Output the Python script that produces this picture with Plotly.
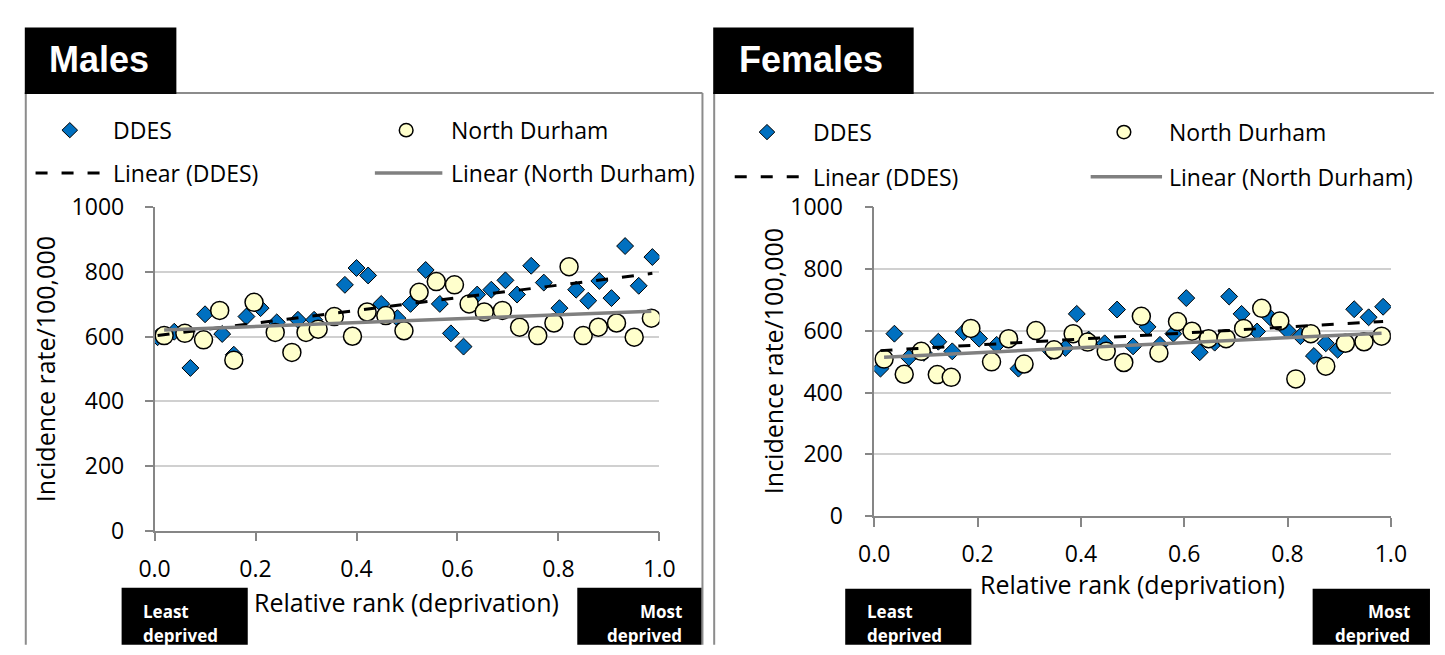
import numpy as np
import plotly.graph_objects as go

# ---- data: incidence rate per 100,000 by relative deprivation rank ----
male_ddes_rank = [0.006, 0.039, 0.071, 0.100, 0.134, 0.157, 0.182, 0.210, 0.242, 0.284,
                  0.316, 0.377, 0.400, 0.423, 0.449, 0.481, 0.507, 0.537, 0.565, 0.587,
                  0.612, 0.639, 0.667, 0.695, 0.718, 0.746, 0.771, 0.802, 0.835, 0.859,
                  0.881, 0.905, 0.932, 0.959, 0.986]
male_ddes_rate = [598, 615, 503, 669, 608, 544, 662, 688, 644, 652,
                  652, 760, 812, 789, 701, 657, 701, 806, 701, 610,
                  569, 730, 745, 774, 730, 819, 767, 688, 745, 711,
                  772, 719, 880, 757, 846]

male_nd_rank = [0.019, 0.060, 0.097, 0.129, 0.157, 0.197, 0.239, 0.272, 0.300, 0.324,
                0.356, 0.392, 0.421, 0.458, 0.494, 0.524, 0.558, 0.594, 0.623, 0.653,
                0.689, 0.723, 0.759, 0.791, 0.821, 0.849, 0.879, 0.915, 0.950, 0.984]
male_nd_rate = [603, 610, 590, 681, 527, 706, 613, 551, 613, 623,
                662, 601, 676, 665, 618, 737, 770, 760, 701, 676,
                681, 629, 603, 642, 816, 603, 629, 642, 598, 657]

female_ddes_rank = [0.012, 0.039, 0.067, 0.096, 0.124, 0.151, 0.173, 0.203, 0.237, 0.279,
                    0.342, 0.370, 0.392, 0.415, 0.446, 0.470, 0.501, 0.529, 0.553, 0.579,
                    0.604, 0.630, 0.659, 0.687, 0.711, 0.741, 0.766, 0.800, 0.825, 0.851,
                    0.874, 0.897, 0.929, 0.957, 0.985]
female_ddes_rate = [477, 590, 513, 528, 564, 533, 595, 574, 554, 477,
                    533, 544, 654, 571, 559, 668, 549, 612, 554, 590,
                    705, 530, 561, 710, 654, 597, 643, 600, 582, 518,
                    559, 538, 669, 643, 677]

female_nd_rank = [0.019, 0.058, 0.091, 0.122, 0.149, 0.187, 0.227, 0.260, 0.290, 0.313,
                  0.348, 0.385, 0.413, 0.449, 0.483, 0.517, 0.551, 0.587, 0.615, 0.647,
                  0.681, 0.715, 0.750, 0.785, 0.816, 0.845, 0.874, 0.912, 0.948, 0.982]
female_nd_rate = [508, 459, 533, 458, 449, 607, 499, 574, 492, 600,
                  538, 590, 563, 533, 497, 646, 528, 629, 598, 574,
                  574, 607, 672, 631, 444, 590, 485, 559, 564, 582]

x_ticks = [0.0, 0.2, 0.4, 0.6, 0.8, 1.0]
x_tick_labels = ["0.0", "0.2", "0.4", "0.6", "0.8", "1.0"]
y_ticks = [0, 200, 400, 600, 800, 1000]
y_tick_labels = ["0", "200", "400", "600", "800", "1000"]

# ---- page geometry (pixels) ----
W, H = 1445, 655
FONT = "Open Sans"
TITLE_FONT = "Liberation Sans"
BLUE = "#0070C0"
CREAM = "#FFFFCC"
FRAME = "#8C8C8C"
AXIS = "#868686"
GRID = "#D0D0D0"


def px(x):
    return x / W


def py(y):
    return 1 - y / H


def trend(xs, ys):
    slope, intercept = np.polyfit(xs, ys, 1)
    xe = np.array([min(xs), max(xs)])
    return xe, slope * xe + intercept


fig = go.Figure()

panels = [
    dict(xa="x", ya="y", dr=male_ddes_rank, dv=male_ddes_rate,
         nr=male_nd_rank, nv=male_nd_rate),
    dict(xa="x2", ya="y2", dr=female_ddes_rank, dv=female_ddes_rate,
         nr=female_nd_rank, nv=female_nd_rate),
]

for p in panels:
    fig.add_trace(go.Scatter(
        x=p["dr"], y=p["dv"], xaxis=p["xa"], yaxis=p["ya"], mode="markers",
        name="DDES", showlegend=False,
        marker=dict(symbol="diamond", size=13, color=BLUE,
                    line=dict(color="black", width=1))))
    fig.add_trace(go.Scatter(
        x=p["nr"], y=p["nv"], xaxis=p["xa"], yaxis=p["ya"], mode="markers",
        name="North Durham", showlegend=False,
        marker=dict(symbol="circle", size=18, color=CREAM,
                    line=dict(color="black", width=1.5))))
    tx, ty = trend(p["dr"], p["dv"])
    fig.add_trace(go.Scatter(
        x=tx, y=ty, xaxis=p["xa"], yaxis=p["ya"], mode="lines",
        name="Linear (DDES)", showlegend=False,
        line=dict(color="black", width=3, dash="12px,14px")))
    tx, ty = trend(p["nr"], p["nv"])
    fig.add_trace(go.Scatter(
        x=tx, y=ty, xaxis=p["xa"], yaxis=p["ya"], mode="lines",
        name="Linear (North Durham)", showlegend=False,
        line=dict(color="#808080", width=3.5)))


def xaxis_cfg(x0, x1, anchor, standoff):
    return dict(domain=[px(x0), px(x1)], anchor=anchor, range=[0, 1],
                tickvals=x_ticks, ticktext=x_tick_labels,
                showgrid=False, zeroline=False, showline=True,
                linecolor=AXIS, linewidth=1.5,
                ticks="outside", ticklen=9, tickwidth=1.5, tickcolor=AXIS,
                ticklabelstandoff=standoff,
                tickfont=dict(family=FONT, size=23, color="black"))


def yaxis_cfg(y_top, y_bottom, anchor, standoff):
    return dict(domain=[py(y_bottom), py(y_top)], anchor=anchor, range=[0, 1000],
                tickvals=y_ticks, ticktext=y_tick_labels,
                showgrid=True, gridcolor=GRID, gridwidth=1.5,
                zeroline=False, showline=True, linecolor=AXIS, linewidth=1.5,
                ticks="outside", ticklen=8, tickwidth=1.5, tickcolor=AXIS,
                ticklabelstandoff=standoff,
                tickfont=dict(family=FONT, size=23, color="black"))


fig.update_layout(
    width=W, height=H,
    margin=dict(l=0, r=0, t=0, b=0),
    paper_bgcolor="white", plot_bgcolor="white",
    showlegend=False,
    xaxis=xaxis_cfg(141.7, 658, "y", 8),
    yaxis=yaxis_cfg(200, 540, "x", 16),
    xaxis2=xaxis_cfg(877.7, 1406, "y2", 7),
    yaxis2=yaxis_cfg(199.5, 525, "x2", 17),
)

shapes = []
annotations = []


def rect(x0, y0, x1, y1, fill):
    shapes.append(dict(type="rect", xref="paper", yref="paper",
                       x0=px(x0), x1=px(x1), y0=py(y1), y1=py(y0),
                       fillcolor=fill, line=dict(width=0)))


def line(x0, y0, x1, y1, color, width, dash="solid"):
    shapes.append(dict(type="line", xref="paper", yref="paper",
                       x0=px(x0), x1=px(x1), y0=py(y0), y1=py(y1),
                       line=dict(color=color, width=width, dash=dash)))


def text(x, y, s, size, xanchor="left", bold=False, color="black",
         family=FONT, angle=0):
    annotations.append(dict(xref="paper", yref="paper", x=px(x), y=py(y),
                            text=f"<b>{s}</b>" if bold else s,
                            showarrow=False, xanchor=xanchor, yanchor="middle",
                            textangle=angle,
                            font=dict(family=family, size=size, color=color)))


def diamond(cx, cy, r):
    path = (f"M {px(cx - r)},{py(cy)} L {px(cx)},{py(cy - r)} "
            f"L {px(cx + r)},{py(cy)} L {px(cx)},{py(cy + r)} Z")
    shapes.append(dict(type="path", xref="paper", yref="paper", path=path,
                       fillcolor=BLUE, line=dict(color="black", width=1)))


def circle(cx, cy, r):
    shapes.append(dict(type="circle", xref="paper", yref="paper",
                       x0=px(cx - r), x1=px(cx + r), y0=py(cy + r), y1=py(cy - r),
                       fillcolor=CREAM, line=dict(color="black", width=1.5)))


# panel frames and title tabs
for (fx0, fx1, tab_x1, title, title_x, row1, row2, leg) in [
    (10, 702, 164, "Males", 32, 119, 164,
     dict(d=55, dt=97, dash=(20, 90), c=399, ct=443, sol=(367, 436))),
    (714, 1450, 918, "Females", 737, 121, 168,
     dict(d=768, dt=813, dash=(735, 810), c=1133, ct=1177, sol=(1099, 1172))),
]:
    line(fx0, 80, fx0, 660, FRAME, 2)
    line(fx0 - 1, 80, fx1, 80, FRAME, 2)
    if fx1 < W:
        line(fx1, 80, fx1, 660, FRAME, 2)
    rect(fx0 - 1, 11, tab_x1, 81, "black")
    text(title_x, 45, title, 36, bold=True, color="white", family=TITLE_FONT)

    # legend
    diamond(leg["d"], row1, 8)
    text(leg["dt"], row1, "DDES", 23)
    circle(leg["c"], row1, 7)
    text(leg["ct"], row1, "North Durham", 23)
    line(leg["dash"][0], row2, leg["dash"][1], row2, "black", 3, "12px,14px")
    text(leg["dt"], row2, "Linear (DDES)", 23)
    line(leg["sol"][0], row2, leg["sol"][1], row2, "#808080", 3.5)
    text(leg["ct"], row2, "Linear (North Durham)", 23)

# axis titles
text(30, 370, "Incidence rate/100,000", 25, xanchor="center", angle=-90)
text(774, 362, "Incidence rate/100,000", 25, xanchor="center", angle=-90)
text(399, 615, "Relative rank (deprivation)", 25, xanchor="center")
text(1142, 596, "Relative rank (deprivation)", 25, xanchor="center")

# least / most deprived tags
for (lx0, lx1, mx0, mx1, top) in [(108, 237, 574, 701, 600), (848, 977, 1326, 1446, 601)]:
    rect(lx0, top, lx1, 660, "black")
    rect(mx0, top, mx1, 660, "black")
    text(lx0 + 20, 625, "Least", 17, bold=True, color="white")
    text(lx0 + 20, 650, "deprived", 17, bold=True, color="white")
    text(mx1 - 18, 625, "Most", 17, xanchor="right", bold=True, color="white")
    text(mx1 - 18, 650, "deprived", 17, xanchor="right", bold=True, color="white")

fig.update_layout(shapes=shapes, annotations=annotations)
fig.write_html("out.html")
